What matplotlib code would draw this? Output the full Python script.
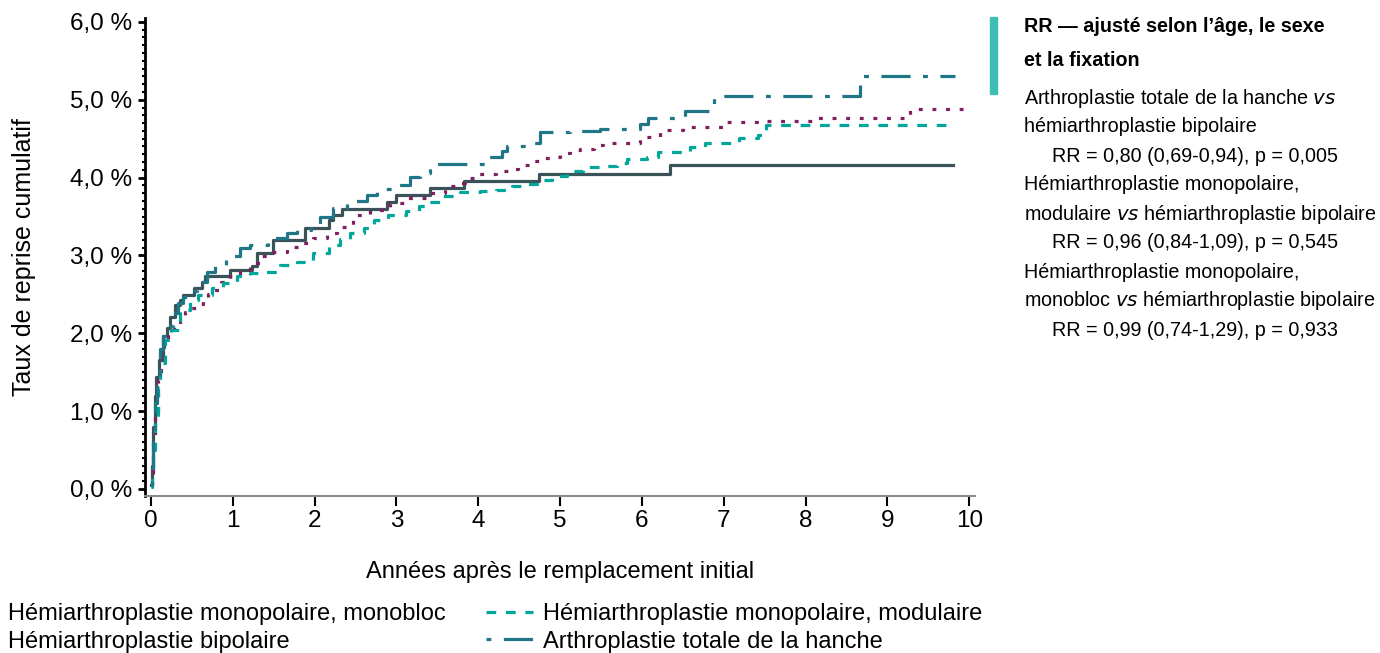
import matplotlib
matplotlib.use("Agg")
import matplotlib.pyplot as plt
from matplotlib.ticker import MultipleLocator, FuncFormatter
from matplotlib.patches import Rectangle

plt.rcParams['font.family'] = ['Liberation Sans', 'DejaVu Sans']
plt.rcParams['lines.scale_dashes'] = False

# cumulative revision rate (%) by years since primary replacement
t_monobloc = [0, 0.01, 0.03, 0.05, 0.06, 0.10, 0.15, 0.19, 0.23, 0.29, 0.35, 0.39, 0.52, 0.62,
              0.66, 0.96, 1.23, 1.29, 1.49, 1.88, 2.17, 2.23, 2.33, 2.88, 3.00, 3.41, 3.82,
              4.74, 6.34, 9.80]
v_monobloc = [0.05, 0.3, 0.8, 1.2, 1.44, 1.66, 1.96, 2.07, 2.21, 2.36, 2.43, 2.49, 2.58, 2.66,
              2.73, 2.81, 2.86, 3.03, 3.20, 3.35, 3.46, 3.52, 3.60, 3.69, 3.78, 3.86, 3.95,
              4.04, 4.16, 4.16]

t_bipolaire = [0, 0.01, 0.03, 0.05, 0.08, 0.12, 0.16, 0.21, 0.28, 0.35, 0.42, 0.48, 0.56, 0.64,
               0.70, 0.76, 0.86, 0.96, 1.09, 1.21, 1.33, 1.49, 1.66, 1.82, 1.98, 2.15, 2.27,
               2.47, 2.68, 2.92, 3.10, 3.37, 3.59, 3.74, 3.84, 3.98, 4.22, 4.39, 4.49, 4.63,
               4.76, 4.88, 5.00, 5.12, 5.24, 5.41, 5.53, 5.98, 6.22, 6.50, 6.99, 7.48, 8.14,
               9.28, 9.95]
v_bipolaire = [0.05, 0.2, 0.6, 1.0, 1.4, 1.7, 1.88, 2.02, 2.12, 2.21, 2.27, 2.32, 2.38, 2.45,
               2.50, 2.56, 2.66, 2.73, 2.81, 2.90, 2.99, 3.05, 3.11, 3.16, 3.22, 3.29, 3.37,
               3.52, 3.59, 3.67, 3.74, 3.80, 3.89, 3.93, 4.00, 4.04, 4.09, 4.11, 4.16, 4.21,
               4.25, 4.27, 4.31, 4.35, 4.37, 4.42, 4.45, 4.52, 4.61, 4.65, 4.71, 4.73, 4.77,
               4.88, 4.88]

t_modulaire = [0, 0.01, 0.03, 0.05, 0.08, 0.11, 0.17, 0.25, 0.35, 0.48, 0.58, 0.74, 0.88, 1.05,
               1.21, 1.39, 1.58, 1.78, 1.98, 2.17, 2.31, 2.43, 2.60, 2.72, 2.90, 3.12, 3.27,
               3.39, 3.57, 3.78, 4.02, 4.22, 4.41, 4.61, 4.74, 4.90, 5.08, 5.28, 5.49, 5.69,
               5.82, 6.06, 6.19, 6.59, 6.77, 7.18, 7.42, 7.51, 9.73]
v_modulaire = [0.03, 0.15, 0.5, 0.9, 1.3, 1.62, 1.92, 2.04, 2.30, 2.43, 2.49, 2.58, 2.65, 2.73,
               2.77, 2.79, 2.88, 2.92, 3.03, 3.14, 3.21, 3.29, 3.35, 3.46, 3.52, 3.57, 3.63,
               3.69, 3.76, 3.81, 3.83, 3.84, 3.89, 3.92, 3.97, 4.02, 4.08, 4.14, 4.15, 4.19,
               4.24, 4.27, 4.33, 4.39, 4.44, 4.51, 4.55, 4.67, 4.67]

t_ath = [0, 0.01, 0.03, 0.05, 0.07, 0.11, 0.15, 0.21, 0.27, 0.33, 0.39, 0.48, 0.56, 0.68,
         0.78, 0.92, 1.09, 1.21, 1.43, 1.66, 1.78, 1.96, 2.07, 2.23, 2.39, 2.64, 2.76, 2.94,
         3.17, 3.29, 3.41, 4.10, 4.29, 4.35, 4.63, 4.76, 5.12, 5.49, 5.98, 6.08, 6.53, 6.88,
         8.66, 9.83]
v_ath = [0.05, 0.2, 0.6, 1.1, 1.44, 1.8, 1.96, 2.09, 2.26, 2.39, 2.47, 2.54, 2.66, 2.79,
         2.88, 2.99, 3.09, 3.14, 3.22, 3.29, 3.33, 3.41, 3.50, 3.61, 3.70, 3.78, 3.85, 3.91,
         4.01, 4.06, 4.18, 4.27, 4.34, 4.41, 4.45, 4.58, 4.60, 4.62, 4.69, 4.76, 4.85, 5.05,
         5.31, 5.31]

labels = ["Hémiarthroplastie monopolaire, monobloc",
          "Hémiarthroplastie bipolaire",
          "Hémiarthroplastie monopolaire, modulaire",
          "Arthroplastie totale de la hanche"]

rr_title = ["RR — ajusté selon l’âge, le sexe", "et la fixation"]
rr_lines = [("Arthroplastie totale de la hanche $\\it{vs}$", 0),
            ("hémiarthroplastie bipolaire", 0),
            ("RR = 0,80 (0,69-0,94), p = 0,005", 1),
            ("Hémiarthroplastie monopolaire,", 0),
            ("modulaire $\\it{vs}$ hémiarthroplastie bipolaire", 0),
            ("RR = 0,96 (0,84-1,09), p = 0,545", 1),
            ("Hémiarthroplastie monopolaire,", 0),
            ("monobloc $\\it{vs}$ hémiarthroplastie bipolaire", 0),
            ("RR = 0,99 (0,74-1,29), p = 0,933", 1)]

W, H = 1380, 653
fig = plt.figure(figsize=(W / 100, H / 100), dpi=100)
ax = fig.add_axes([145 / W, 1 - 496 / H, 830 / W, 478 / H])

lw = 2.3
l1, = ax.step(t_monobloc, v_monobloc, where='post', color='#3b5358', lw=lw)
l2, = ax.step(t_bipolaire, v_bipolaire, where='post', color='#801f60', lw=lw,
              linestyle=(0, (2.8, 7)))
l3, = ax.step(t_modulaire, v_modulaire, where='post', color='#00a69a', lw=lw,
              linestyle=(0, (7, 7)))
l4, = ax.step(t_ath, v_ath, where='post', color='#1f7686', lw=lw,
              linestyle=(30, (21, 9, 3.5, 9)))

ax.set_xlim(-0.073, 10.07)
ax.set_ylim(-0.09, 6.05)
ax.xaxis.set_major_locator(MultipleLocator(1))
ax.yaxis.set_major_locator(MultipleLocator(1))
ax.yaxis.set_minor_locator(MultipleLocator(0.1))
ax.yaxis.set_major_formatter(FuncFormatter(lambda v, p: f"{v:.1f} %".replace('.', ',')))

for s in ['top', 'right']:
    ax.spines[s].set_visible(False)
ax.spines['left'].set_linewidth(2)
ax.spines['left'].set_color('black')
ax.spines['bottom'].set_linewidth(1.5)
ax.spines['bottom'].set_color('#8c8c8c')
ax.tick_params(axis='y', which='major', length=5, width=2, labelsize=17.5, pad=4)
ax.tick_params(axis='y', which='minor', length=2.5, width=1.5)
ax.tick_params(axis='x', which='major', length=7, width=1.5, labelsize=17.5, pad=3)

ax.set_xlabel("Années après le remplacement initial", fontsize=17)
ax.xaxis.set_label_coords(0.5, -0.137)
ax.set_ylabel("Taux de reprise cumulatif", fontsize=18)
ax.yaxis.set_label_coords(-0.131, 0.5)

fig.legend([l1, l2, l3, l4], labels, ncol=2, loc='upper left',
           bbox_to_anchor=(-49 / W, 1 - 603 / H), frameon=False, fontsize=17,
           borderaxespad=0, borderpad=0, handlelength=2.0, handletextpad=0.42,
           columnspacing=1.7, labelspacing=0.24)

# relative risk panel
fig.patches.append(Rectangle((990 / W, 1 - 94 / H), 7 / W, 77 / H,
                             transform=fig.transFigure, color='#3dbdb3'))
fig.text(1024 / W, 1 - 27 / H, rr_title[0], fontsize=14.2, fontweight='bold', va='center')
fig.text(1024 / W, 1 - 60 / H, rr_title[1], fontsize=14.2, fontweight='bold', va='center')
for i, (txt, indent) in enumerate(rr_lines):
    fig.text((1024 + 28 * indent) / W, 1 - (98 + 29 * i) / H, txt, fontsize=14.2, va='center')

fig.savefig("out.png", dpi=100)
